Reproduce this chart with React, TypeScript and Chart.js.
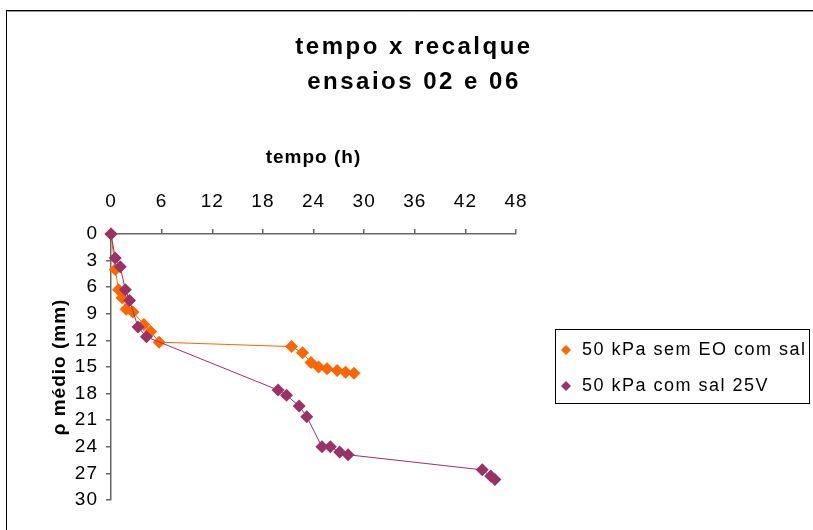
import React, { useEffect, useRef } from 'react';
import { Chart, registerables } from 'chart.js';

Chart.register(...registerables);

const titleLines = ['tempo x recalque', 'ensaios 02 e 06'];
const xAxisTitle = 'tempo (h)';
const yAxisTitle = 'ρ médio (mm)';
const seriesNames = ['50 kPa sem EO com sal', '50 kPa com sal 25V'];
const seriesColors = ['#FF6600', '#993366'];

const xMin = 0;
const xMax = 48;
const xStep = 6;
const yMin = 0;
const yMax = 30;
const yStep = 3;

// 50 kPa sem EO com sal
const semEO_t = [0, 0.5, 0.9, 1.3, 1.8, 2.6, 3.9, 4.7, 5.7, 21.4, 22.7, 23.7, 24.6, 25.6, 26.8, 27.8, 28.8];
const semEO_r = [0, 4.0, 6.3, 7.2, 8.5, 8.8, 10.2, 11.0, 12.2, 12.7, 13.4, 14.5, 15.0, 15.2, 15.4, 15.6, 15.7];

// 50 kPa com sal 25V
const com25V_t = [0, 0.5, 1.1, 1.7, 2.2, 3.2, 4.2, 19.8, 20.8, 22.3, 23.2, 25.0, 26.0, 27.1, 28.1, 44.0, 45.0, 45.5];
const com25V_r = [0, 2.7, 3.7, 6.3, 7.5, 10.5, 11.6, 17.6, 18.2, 19.4, 20.6, 24.0, 24.0, 24.6, 24.9, 26.6, 27.3, 27.7];

const FONT = '"Liberation Sans", Arial, Helvetica, sans-serif';

const toPoints = (xs: number[], ys: number[]) => xs.map((x, i) => ({ x, y: ys[i] }));

const decorPlugin = {
  id: 'decor',
  beforeDraw(chart: any) {
    const ctx = chart.ctx;
    ctx.save();
    ctx.fillStyle = '#ffffff';
    ctx.fillRect(0, 0, chart.width, chart.height);
    ctx.restore();
    ctx.letterSpacing = '1px';
  },
  afterDraw(chart: any) {
    const ctx = chart.ctx;
    ctx.save();
    // outer frame
    ctx.letterSpacing = '0px';
    ctx.strokeStyle = '#000';
    ctx.lineWidth = 1;
    ctx.strokeRect(6.5, 10.5, 1200, 1200);
    ctx.strokeStyle = '#9a9a9a';
    ctx.beginPath();
    ctx.moveTo(7.5, 11.5);
    ctx.lineTo(1200, 11.5);
    ctx.stroke();

    // title
    ctx.fillStyle = '#000';
    ctx.textAlign = 'center';
    ctx.textBaseline = 'middle';
    ctx.font = `bold 24px ${FONT}`;
    ctx.letterSpacing = '2.5px';
    ctx.fillText(titleLines[0], 414, 47);
    ctx.fillText(titleLines[1], 414, 82);

    // legend
    ctx.letterSpacing = '0px';
    ctx.strokeStyle = '#000';
    ctx.lineWidth = 1;
    ctx.strokeRect(555.5, 329.5, 254, 74);
    const rows = [350, 386];
    ctx.font = `18px ${FONT}`;
    ctx.textAlign = 'left';
    ctx.letterSpacing = '1.5px';
    rows.forEach((ry, i) => {
      const r = 5;
      ctx.fillStyle = seriesColors[i];
      ctx.beginPath();
      ctx.moveTo(566 - r, ry);
      ctx.lineTo(566, ry - r);
      ctx.lineTo(566 + r, ry);
      ctx.lineTo(566, ry + r);
      ctx.closePath();
      ctx.fill();
      ctx.fillStyle = '#000';
      ctx.fillText(seriesNames[i], 582, ry);
    });
    ctx.restore();
  },
};

export default function App() {
  const canvasRef = useRef<HTMLCanvasElement | null>(null);

  useEffect(() => {
    if (!canvasRef.current) return;
    const chart = new Chart(canvasRef.current, {
      type: 'scatter',
      data: {
        datasets: [
          {
            label: seriesNames[0],
            data: toPoints(semEO_t, semEO_r),
            showLine: true,
            clip: false,
            borderColor: seriesColors[0],
            backgroundColor: seriesColors[0],
            borderWidth: 1,
            pointStyle: 'rectRot',
            pointRadius: 6.5,
            pointBorderWidth: 0,
            order: 1,
          },
          {
            label: seriesNames[1],
            data: toPoints(com25V_t, com25V_r),
            showLine: true,
            clip: false,
            borderColor: seriesColors[1],
            backgroundColor: seriesColors[1],
            borderWidth: 1,
            pointStyle: 'rectRot',
            pointRadius: 6.5,
            pointBorderWidth: 0,
            order: 0,
          },
        ],
      },
      options: {
        animation: false,
        responsive: true,
        maintainAspectRatio: false,
        layout: { padding: { left: 0, top: 0, right: 297, bottom: 30 } },
        plugins: {
          legend: { display: false },
          title: { display: false },
          tooltip: { enabled: false },
        },
        scales: {
          x: {
            type: 'linear',
            position: 'top',
            min: xMin,
            max: xMax,
            afterFit: (s: any) => {
              s.height = 234;
            },
            ticks: {
              stepSize: xStep,
              color: '#000',
              padding: 16,
              maxRotation: 0,
              font: { family: FONT, size: 19 },
            },
            grid: {
              drawOnChartArea: false,
              drawTicks: true,
              tickLength: 5,
              color: '#666',
              lineWidth: 1.5,
            },
            border: { display: true, color: '#666', width: 1.5 },
            title: {
              display: true,
              text: xAxisTitle,
              color: '#000',
              font: { family: FONT, size: 19, weight: 'bold' },
              padding: { top: 146, bottom: 0 },
            },
          },
          y: {
            type: 'linear',
            reverse: true,
            min: yMin,
            max: yMax,
            afterFit: (s: any) => {
              s.width = 111;
            },
            ticks: {
              stepSize: yStep,
              color: '#000',
              padding: 8,
              font: { family: FONT, size: 19 },
            },
            grid: {
              drawOnChartArea: false,
              drawTicks: true,
              tickLength: 5,
              color: '#666',
              lineWidth: 1.5,
            },
            border: { display: true, color: '#666', width: 1.5 },
            title: {
              display: true,
              text: yAxisTitle,
              color: '#000',
              font: { family: FONT, size: 19, weight: 'bold' },
              padding: { top: 48, bottom: 0 },
            },
          },
        },
      },
      plugins: [decorPlugin],
    } as any);
    return () => chart.destroy();
  }, []);

  return (
    <div style={{ position: 'fixed', left: 0, top: 0, width: 813, height: 530, background: '#fff' }}>
      <canvas ref={canvasRef} />
    </div>
  );
}
